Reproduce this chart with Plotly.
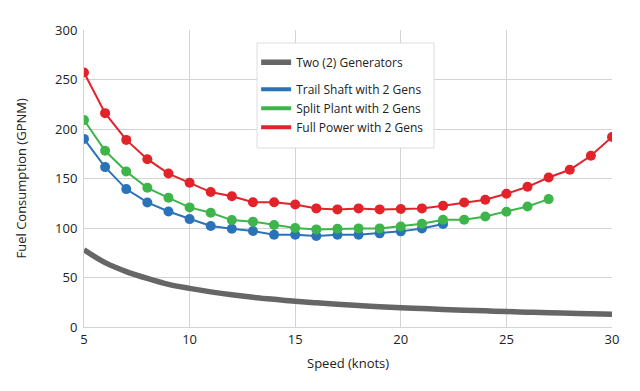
import plotly.graph_objects as go

speed = list(range(5, 31))
two_gens = [78, 65, 56, 49, 43, 39, 35.5, 32.5, 30, 28, 26, 24.4, 23, 21.7, 20.5,
            19.5, 18.6, 17.7, 17, 16.3, 15.6, 15, 14.4, 13.9, 13.4, 13]

speed_trail = list(range(5, 23))
trail_shaft = [190, 161.5, 139.3, 125.8, 116.7, 109, 102, 99.3, 97, 93.2, 93.2, 92,
               93.2, 93.2, 94.6, 96.6, 99.6, 104]

speed_split = list(range(5, 28))
split_plant = [209, 178, 157, 140.6, 130.5, 120.8, 115.4, 108, 106.4, 103, 100, 98.6,
               99.3, 99.6, 99.6, 101.6, 104.3, 108.4, 108.4, 111.7, 116.4, 121.8, 129.2]

speed_full = list(range(5, 31))
full_power = [257, 216, 189, 169.5, 155, 145.7, 136.3, 132, 126, 126, 123.8, 119.8,
              118.8, 119.8, 118.8, 119.2, 119.8, 122.5, 125.8, 128.5, 134.6, 141.6,
              151, 158.8, 173, 192]

GRAY = "#666666"
BLUE = "#2b73b9"
GREEN = "#3db54a"
RED = "#e2232a"
FONT = "Open Sans"

fig = go.Figure()

fig.add_trace(go.Scatter(x=speed, y=two_gens, mode="lines", name="Two (2) Generators",
                         line=dict(color=GRAY, width=5.5, shape="spline"),
                         legendgroup="a", showlegend=True))

for xs, ys, name, col in [(speed_trail, trail_shaft, "Trail Shaft with 2 Gens", BLUE),
                          (speed_split, split_plant, "Split Plant with 2 Gens", GREEN),
                          (speed_full, full_power, "Full Power with 2 Gens", RED)]:
    fig.add_trace(go.Scatter(x=xs, y=ys, mode="lines+markers", name=name,
                             line=dict(color=col, width=2),
                             marker=dict(color=col, size=10),
                             showlegend=False, legendgroup="b"))
    fig.add_trace(go.Scatter(x=[None], y=[None], mode="lines", name=name,
                             line=dict(color=col, width=4),
                             showlegend=True, legendgroup="b"))

# legend frame drawn as a shape so it can be taller than plotly's own box
fig.add_shape(type="rect", xref="paper", yref="paper",
              x0=0.3277, x1=0.6629, y0=0.6027, y1=0.9562,
              fillcolor="white", line=dict(color="#dddddd", width=1), layer="above")

fig.add_annotation(text="Speed (knots)", xref="paper", yref="paper",
                   x=0.5, y=-0.1212, xanchor="center", yanchor="middle",
                   showarrow=False, font=dict(family=FONT, size=13, color="#222222"))
fig.add_annotation(text="Fuel Consumption (GPNM)", xref="paper", yref="paper",
                   x=-0.1212, y=0.5, xanchor="center", yanchor="middle", textangle=-90,
                   showarrow=False, font=dict(family=FONT, size=13, color="#222222"))

fig.update_layout(
    width=640, height=391,
    margin=dict(l=76, r=36, t=22, b=72),
    paper_bgcolor="white", plot_bgcolor="white",
    font=dict(family=FONT, size=13, color="#222222"),
    showlegend=True,
    legend=dict(x=0.326, y=0.94, xanchor="left", yanchor="top",
                bgcolor="rgba(0,0,0,0)", borderwidth=0,
                traceorder="grouped", tracegroupgap=8,
                font=dict(family=FONT, size=12, color="#222222"),
                itemwidth=30),
    xaxis=dict(range=[5, 30], tickvals=[5, 10, 15, 20, 25, 30],
               showgrid=True, gridcolor="#d3d3d3", gridwidth=1,
               showline=True, linecolor="#d3d3d3", zeroline=False,
               ticks="", ticklabelstandoff=0, automargin=False),
    yaxis=dict(range=[0, 300], tickvals=[0, 50, 100, 150, 200, 250, 300],
               showgrid=True, gridcolor="#d3d3d3", gridwidth=1,
               showline=True, linecolor="#d3d3d3", zeroline=False,
               ticks="", ticklabelstandoff=3, automargin=False),
)

fig.write_html("out.html")
